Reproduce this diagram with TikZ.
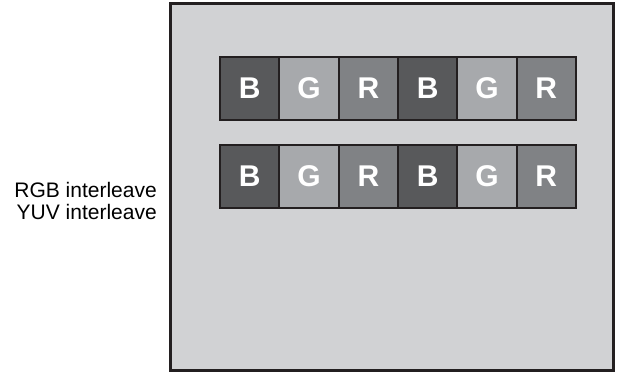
\documentclass[tikz,border=0pt]{standalone}
\usepackage{fontspec}
\setmainfont{Liberation Sans}
\usetikzlibrary{positioning}
\definecolor{panelgray}{HTML}{D1D2D4}
\definecolor{bluecell}{HTML}{58595B}
\definecolor{greencell}{HTML}{A7A9AC}
\definecolor{redcell}{HTML}{808285}
\definecolor{edgeblack}{HTML}{231F20}
\tikzset{
x=1pt, y=1pt, % one unit is one pixel of the reference
cell/.style={draw=edgeblack, line width=2pt, outer sep=0pt, minimum width=59.33pt, minimum height=63pt, text=white, font=\fontsize{30}{30}\selectfont\bfseries}, % sets the common properties of each sample cell
bcell/.style={cell, fill=bluecell},
gcell/.style={cell, fill=greencell},
rcell/.style={cell, fill=redcell},
}

\begin{document}
\begin{tikzpicture}
    \useasboundingbox (0,0) rectangle (618,372);
    \node[draw=edgeblack, line width=3pt, fill=panelgray, minimum width=443pt, minimum height=366pt] (frame) at (391.5,185) {};
    \node[anchor=east, align=right, font=\fontsize{21}{21.5}\selectfont, inner sep=0pt] (label) at (157,171) {RGB interleave\\YUV interleave};
    % first row
    \node[bcell] (b1) at (249.67,283.5) {B};
    \node[gcell, right=0pt of b1] (g1) {G};
    \node[rcell, right=0pt of g1] (r1) {R};
    \node[bcell, right=0pt of r1] (b2) {B};
    \node[gcell, right=0pt of b2] (g2) {G};
    \node[rcell, right=0pt of g2] (r2) {R};
    % second row
    \node[bcell] (b3) at (249.67,195.5) {B};
    \node[gcell, right=0pt of b3] (g3) {G};
    \node[rcell, right=0pt of g3] (r3) {R};
    \node[bcell, right=0pt of r3] (b4) {B};
    \node[gcell, right=0pt of b4] (g4) {G};
    \node[rcell, right=0pt of g4] (r4) {R};
  \end{tikzpicture}
\end{document}
